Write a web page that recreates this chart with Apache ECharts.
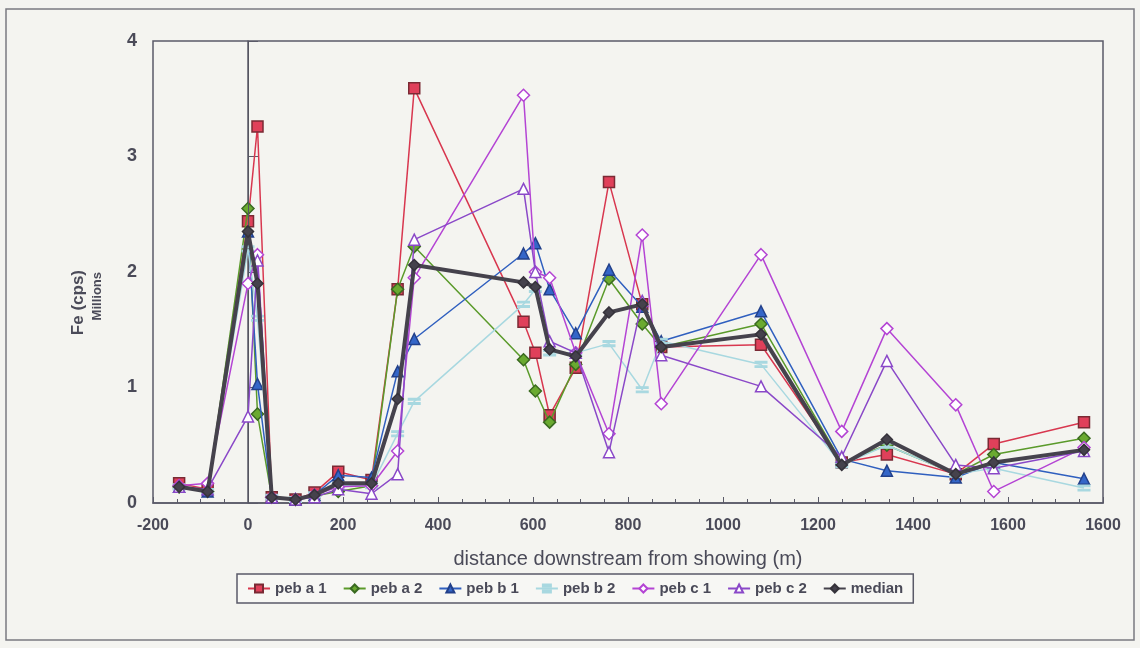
<!DOCTYPE html>
<html><head><meta charset="utf-8">
<script src="https://cdn.jsdelivr.net/npm/echarts@6/dist/echarts.min.js"></script>
<style>html,body{margin:0;padding:0;background:#f4f4f0}#c{width:1140px;height:648px}</style>
</head><body><div id="c"></div>
<script>
const distances = [-145, -85, 0, 20, 50, 100, 140, 190, 260, 315, 350, 580, 605, 635, 690, 760, 830, 870, 1080, 1250, 1345, 1490, 1570, 1760];
const pebA1 = [0.17, 0.12, 2.44, 3.26, 0.05, 0.03, 0.09, 0.27, 0.20, 1.85, 3.59, 1.57, 1.30, 0.76, 1.17, 2.78, 1.72, 1.35, 1.37, 0.35, 0.42, 0.25, 0.51, 0.70];
const pebA2 = [0.14, 0.10, 2.55, 0.77, 0.05, 0.03, 0.06, 0.10, 0.15, 1.85, 2.22, 1.24, 0.97, 0.70, 1.20, 1.94, 1.55, 1.35, 1.55, 0.35, 0.50, 0.25, 0.42, 0.56];
const pebB1 = [0.14, 0.10, 2.35, 1.03, 0.05, 0.03, 0.07, 0.24, 0.22, 1.14, 1.42, 2.16, 2.25, 1.85, 1.47, 2.02, 1.70, 1.40, 1.66, 0.38, 0.28, 0.22, 0.35, 0.21];
const pebB2 = [0.14, 0.10, 2.20, 1.60, 0.05, 0.03, 0.07, 0.15, 0.15, 0.60, 0.88, 1.72, 1.85, 1.30, 1.30, 1.38, 0.98, 1.40, 1.20, 0.33, 0.50, 0.25, 0.30, 0.13];
const pebC1 = [0.15, 0.17, 1.90, 2.15, 0.05, 0.03, 0.07, 0.14, 0.15, 0.45, 1.95, 3.53, 2.00, 1.95, 1.30, 0.60, 2.32, 0.86, 2.15, 0.62, 1.51, 0.85, 0.10, 0.48];
const pebC2 = [0.14, 0.12, 0.75, 2.10, 0.05, 0.03, 0.05, 0.12, 0.08, 0.25, 2.28, 2.72, 2.00, 1.40, 1.30, 0.44, 1.75, 1.28, 1.01, 0.40, 1.23, 0.33, 0.30, 0.45];
const median = [0.14, 0.10, 2.35, 1.90, 0.05, 0.03, 0.07, 0.17, 0.17, 0.90, 2.06, 1.91, 1.87, 1.33, 1.27, 1.65, 1.72, 1.35, 1.46, 0.33, 0.55, 0.25, 0.35, 0.46];
const seriesNames = ['peb a 1', 'peb a 2', 'peb b 1', 'peb b 2', 'peb c 1', 'peb c 2', 'median'];
const xTickLabels = ['-200', '0', '200', '400', '600', '800', '1000', '1200', '1400', '1600', '1600'];
const yTickLabels = ['0', '1', '2', '3', '4'];

const allValues = [pebA1, pebA2, pebB1, pebB2, pebC1, pebC2, median];
const styles = [
  {line:'#d8374f', fill:'#e0405a', border:'#7a2a34', symbol:'rect', size:11, width:1.5},
  {line:'#5a9a2a', fill:'#6aaa30', border:'#3a6a20', symbol:'diamond', size:12, width:1.5},
  {line:'#2f5fbf', fill:'#3466c8', border:'#22408a', symbol:'triangle', size:11, width:1.5},
  {line:'#a8d8e0', fill:'#a8d8e0', border:'#a8d8e0', symbol:'path://M0,0H10V2H0ZM0,5H10V7H0Z', size:[11,6], width:1.5},
  {line:'#b444d4', fill:'#ffffff', border:'#b444d4', symbol:'diamond', size:12, width:1.5},
  {line:'#8a48c8', fill:'#ffffff', border:'#8a48c8', symbol:'triangle', size:11, width:1.5},
  {line:'#45424c', fill:'#45424c', border:'#35323a', symbol:'diamond', size:11, width:4}
];
const series = seriesNames.map((n, i) => ({
  name: n, type: 'line',
  data: distances.map((d, j) => [d, allValues[i][j]]),
  symbol: styles[i].symbol, symbolSize: styles[i].size,
  lineStyle: {color: styles[i].line, width: styles[i].width},
  itemStyle: {color: styles[i].fill, borderColor: styles[i].border, borderWidth: 1.5},
  z: 2 + i
}));
series[0].markLine = {
  silent: true, symbol: 'none', label: {show: false},
  lineStyle: {color: '#555560', width: 1, type: 'solid'},
  data: [{xAxis: 0}]
};

const chart = echarts.init(document.getElementById('c'), null, {renderer: 'canvas'});
chart.setOption({
  backgroundColor: '#f4f4f0',
  animation: false,
  graphic: [
    {type: 'rect', shape: {x: 6, y: 9, width: 1128, height: 631}, style: {fill: 'none', stroke: '#7a7a80', lineWidth: 1.5}, z: -1},
    {type: 'text', left: 70, top: 270, rotation: Math.PI/2, style: {text: 'Fe (cps)', fill: '#4a4a58', font: 'bold 17px "Liberation Sans", Arial, sans-serif'}},
    {type: 'text', left: 91, top: 272, rotation: Math.PI/2, style: {text: 'Millions', fill: '#4a4a58', font: 'bold 13px "Liberation Sans", Arial, sans-serif'}}
  ],
  grid: {left: 153, right: 37, top: 41, bottom: 145, show: true, borderColor: '#5a5a68', borderWidth: 1.5, backgroundColor: 'transparent'},
  xAxis: {
    type: 'value', min: -200, max: 1800, interval: 200,
    name: 'distance downstream from showing (m)', nameLocation: 'middle', nameGap: 46,
    nameTextStyle: {color: '#4a4a58', fontSize: 20, fontFamily: '"Liberation Sans", Arial, sans-serif'},
    axisLine: {show: true, onZero: false, lineStyle: {color: '#5a5a68', width: 1.5}},
    axisTick: {show: true, inside: true, length: 6, lineStyle: {color: '#5a5a68'}},
    minorTick: {show: true, splitNumber: 4, length: 4, lineStyle: {color: '#5a5a68'}},
    splitLine: {show: false},
    axisLabel: {color: '#4a4a58', fontSize: 16, fontWeight: 'bold', fontFamily: '"Liberation Sans", Arial, sans-serif', margin: 15,
      formatter: v => xTickLabels[Math.round((v + 200) / 200)]}
  },
  yAxis: {
    type: 'value', min: 0, max: 4, interval: 1,
    axisLine: {show: true, lineStyle: {color: '#5a5a68', width: 1.5}},
    axisTick: {show: true, inside: true, length: 10, lineStyle: {color: '#5a5a68'}},
    splitLine: {show: false},
    axisLabel: {color: '#4a4a58', fontSize: 18, fontWeight: 'bold', fontFamily: '"Liberation Sans", Arial, sans-serif', margin: 16,
      formatter: v => yTickLabels[Math.round(v)]}
  },
  legend: {
    left: 237, top: 574, width: 700,
    data: seriesNames,
    itemWidth: 22, itemHeight: 10, itemGap: 16,
    borderColor: '#5a5a68', borderWidth: 1.5, padding: [7, 10, 7, 10],
    backgroundColor: '#f7f7f4',
    textStyle: {color: '#4a4a58', fontSize: 15, fontWeight: 'bold', fontFamily: '"Liberation Sans", Arial, sans-serif'}
  },
  series: series
});
</script></body></html>
